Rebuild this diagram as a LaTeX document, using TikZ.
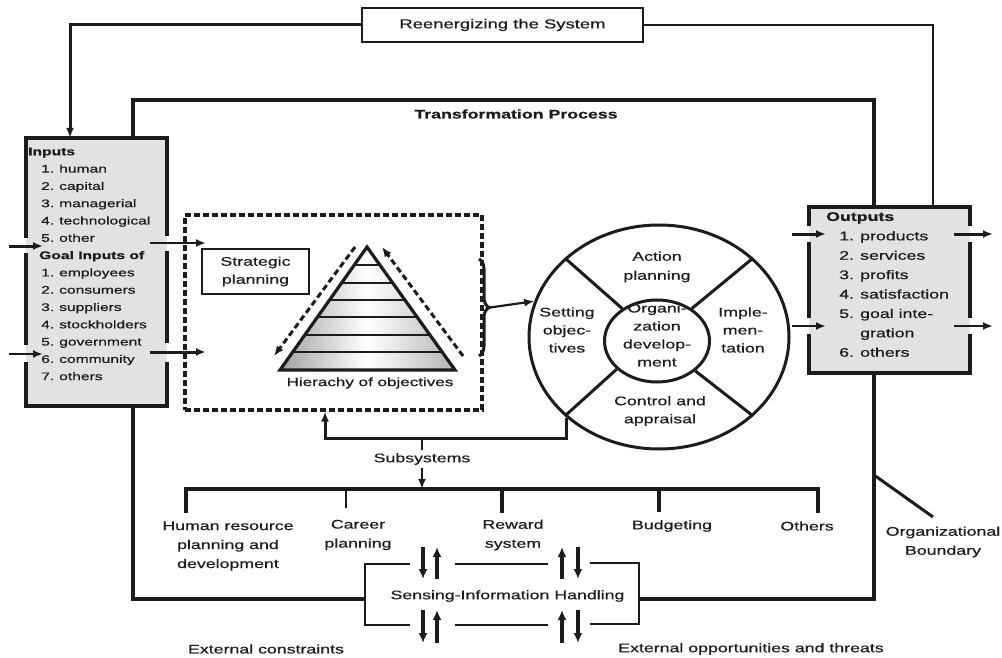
\documentclass[tikz,border=0pt]{standalone}
\usepackage{fontspec}
\setmainfont[FakeStretch=1.42,FakeBold=0.6]{Liberation Sans}
\usetikzlibrary{arrows.meta,shapes.geometric,decorations.pathreplacing,calc}
\definecolor{boxgray}{RGB}{226,226,226}
\definecolor{ink}{RGB}{28,28,28}
\begin{document}
\begin{tikzpicture}[x=1pt,y=-1pt,
  every node/.style={inner sep=0pt, text=ink},
  lab/.style={font=\fontsize{12.5}{19}\selectfont, align=center},
  heavy/.style={line width=3.3pt, draw=ink, line join=miter},
  med/.style={line width=3pt, draw=ink},
  thin/.style={line width=2.2pt, draw=ink},
  bord/.style={line width=3.2pt, draw=ink},
  tip/.style={-{Latex[length=10pt,width=8pt]}},
  pairarr/.style={line width=3.2pt, draw=ink, -{Latex[length=10pt,width=9pt]}},
]
\useasboundingbox (0,0) rectangle (1002,658);

% ---------- Reenergizing box and loop ----------
\node[draw=ink, line width=2.8pt, minimum width=281pt, minimum height=34pt,
      font=\fontsize{13}{15}\selectfont] (reen) at (502.5,25) {Reenergizing the System};

% ---------- Inputs and outputs boxes ----------
\node[fill=boxgray, minimum width=141pt, minimum height=268pt] (inp) at (96.5,272) {};
\node[fill=boxgray, minimum width=161pt, minimum height=166pt] (out) at (889.5,290) {};

\draw[bord] (26,238) -- (26,138) -- (167,138) -- (167,236);
\draw[bord] (26,253) -- (26,345);
\draw[bord] (167,251) -- (167,343);
\draw[bord] (26,362) -- (26,406) -- (167,406) -- (167,362);

\draw[bord] (809,226) -- (809,207) -- (970,207) -- (970,226);
\draw[bord] (809,242) -- (809,318);
\draw[bord] (970,242) -- (970,318);
\draw[bord] (809,334) -- (809,373) -- (970,373) -- (970,334);

\node[anchor=north west, align=left, font=\fontsize{11}{17.3}\selectfont] (inptxt) at (28,147.5) {%
\textbf{Inputs}\\
\hspace*{13pt}\makebox[18pt][l]{1.}human\\
\hspace*{13pt}\makebox[18pt][l]{2.}capital\\
\hspace*{13pt}\makebox[18pt][l]{3.}managerial\\
\hspace*{13pt}\makebox[18pt][l]{4.}technological\\
\hspace*{13pt}\makebox[18pt][l]{5.}other\\
\hspace*{11pt}\textbf{Goal Inputs of}\\
\hspace*{13pt}\makebox[18pt][l]{1.}employees\\
\hspace*{13pt}\makebox[18pt][l]{2.}consumers\\
\hspace*{13pt}\makebox[18pt][l]{3.}suppliers\\
\hspace*{13pt}\makebox[18pt][l]{4.}stockholders\\
\hspace*{13pt}\makebox[18pt][l]{5.}government\\
\hspace*{13pt}\makebox[18pt][l]{6.}community\\
\hspace*{13pt}\makebox[18pt][l]{7.}others}; 

\node[anchor=north west, align=left, font=\fontsize{12.5}{19.4}\selectfont] (outtxt) at (826,212) {%
\textbf{Outputs}\\
\hspace*{13pt}\makebox[21pt][l]{1.}products\\
\hspace*{13pt}\makebox[21pt][l]{2.}services\\
\hspace*{13pt}\makebox[21pt][l]{3.}profits\\
\hspace*{13pt}\makebox[21pt][l]{4.}satisfaction\\
\hspace*{13pt}\makebox[21pt][l]{5.}goal inte-\\
\hspace*{34pt}gration\\
\hspace*{13pt}\makebox[21pt][l]{6.}others};

% reenergizing loop
\coordinate (rl) at (70,25);
\coordinate (rr) at (933,25);
\draw[med, tip] (reen.west) -- (rl) -- (inp.north -| rl);
\draw[thin] (reen.east) -- (rr) -- (out.north -| rr);

% ---------- Organizational boundary ----------
\coordinate (tl) at (133,100);
\coordinate (tr) at (874,100);
\coordinate (bl) at (133,599);
\coordinate (br) at (874,599);
\coordinate (sL) at (365,599);
\coordinate (sR) at (639,599);
\draw[heavy] (inp.north -| tl) -- (tl) -- (tr) -- (out.north -| tr);
\draw[heavy] (inp.south -| bl) -- (bl) -- (sL);
\draw[heavy] (out.south -| br) -- (br) -- (sR);

\node[font=\fontsize{12.5}{15}\selectfont\bfseries] (tp) at (516,114) {Transformation Process};

% ---------- input/output arrows ----------
\coordinate (ia1) at (9,246);   \coordinate (ia1e) at (43,246);
\coordinate (ia2) at (9,354);   \coordinate (ia2e) at (43,354);
\coordinate (ib1) at (150,243); \coordinate (ib1e) at (206,243);
\coordinate (ib2) at (150,352); \coordinate (ib2e) at (206,352);
\draw[med, tip] (ia1) -- (ia1e);
\draw[thin, tip] (ia2) -- (ia2e);
\draw[thin, tip] (ib1) -- (ib1e);
\draw[med, tip] (ib2) -- (ib2e);

\coordinate (oa1) at (792,234); \coordinate (oa1e) at (826,234);
\coordinate (oa2) at (792,326); \coordinate (oa2e) at (826,326);
\coordinate (ob1) at (954,234); \coordinate (ob1e) at (993,234);
\coordinate (ob2) at (954,326); \coordinate (ob2e) at (993,326);
\draw[med, tip] (oa1) -- (oa1e);
\draw[thin, tip] (oa2) -- (oa2e);
\draw[med, tip] (ob1) -- (ob1e);
\draw[thin, tip] (ob2) -- (ob2e);

% ---------- dashed planning box ----------
\node[draw=ink, line width=3.2pt, dash pattern=on 6pt off 3pt,
      minimum width=297pt, minimum height=195pt] (dbox) at (333.5,312.5) {};
\node[draw=ink, line width=2.8pt, minimum width=107pt, minimum height=45pt,
      lab, font=\fontsize{12.5}{18}\selectfont] (strat) at (255.5,271.5) {Strategic\\planning};

% pyramid
\begin{scope}
  \clip (367,247) -- (280,370) -- (455,370) -- cycle;
  \foreach \ya/\yb in {247/265,265/283,283/300,300/317,317/335,335/352,352/370}{
    \shade[left color=gray!75, right color=gray!60, middle color=white] (278,\ya) rectangle (457,\yb);
  }
  \foreach \y in {265,283,300,317,335,352}
    \draw[line width=2.8pt, draw=ink] (270,\y) -- (465,\y);
\end{scope}
\draw[line width=3.2pt, draw=ink, line join=miter] (367,247) -- (280,370) -- (455,370) -- cycle;
\coordinate (pl1) at (355,247); \coordinate (pl2) at (274,356);
\coordinate (pr1) at (463,356); \coordinate (pr2) at (382,247);
\draw[med, dash pattern=on 6pt off 3.5pt, tip] (pl1) -- (pl2);
\draw[med, dash pattern=on 6pt off 3.5pt, tip] (pr1) -- (pr2);
\node[font=\fontsize{12}{14}\selectfont] (hier) at (370,383) {Hierachy of objectives};

% brace
\draw[med, decorate, decoration={brace, amplitude=10pt}] (479,259) -- (479,356);
\coordinate (btip) at (490,307.5);

% ---------- OD wheel ----------
\node[draw=ink, ellipse, line width=3pt, minimum width=260pt, minimum height=224pt] (circ) at (659,337) {};
\node[draw=ink, ellipse, line width=3pt, minimum width=105pt, minimum height=82pt] (core) at (657,341) {};
\draw[med] (circ.140) -- (core.137);
\draw[med] (circ.40) -- (core.43);
\draw[med] (circ.220) -- (core.215);
\draw[med] (circ.320) -- (core.322);

\draw[thin, tip] (btip) -- (circ.164);

\node[lab] (act) at (657,267) {Action\\planning};
\node[lab, font=\fontsize{12.5}{18}\selectfont] (setobj) at (567,330) {Setting\\objec-\\tives};
\node[lab, font=\fontsize{12.5}{18}\selectfont] (impl) at (743,330) {Imple-\\men-\\tation};
\node[lab, font=\fontsize{12.5}{18}\selectfont] (odtxt) at (657,335) {Organi-\\zation\\develop-\\ment};
\node[lab, font=\fontsize{12.5}{18}\selectfont] (ctrl) at (660,411) {Control and\\appraisal};

% feedback to planning box
\coordinate (fbturn) at (325,438);
\draw[med, tip] (circ.221) |- (fbturn) -- (fbturn |- dbox.south);

% ---------- subsystems ----------
\node[lab, inner sep=3pt] (subs) at (422,459) {Subsystems};
\draw[thin] (subs.north |- fbturn) -- (subs.north);
\coordinate (busc) at (422,489);
\draw[thin, tip] (subs.south) -- (busc);

\coordinate (d1) at (186,513); \coordinate (d2) at (346,508); \coordinate (d3) at (502,513);
\coordinate (d4) at (659,512); \coordinate (d5) at (818,513);
\draw[heavy] (d1) -- (d1 |- busc) -- (d5 |- busc) -- (d5);
\draw[thin] (d2 |- busc) -- (d2);
\draw[heavy] (d3 |- busc) -- (d3);
\draw[heavy] (d4 |- busc) -- (d4);

\node[lab] (hr) at (228,546) {Human resource\\planning and\\development};
\node[lab] (career) at (358,535) {Career\\planning};
\node[lab] (reward) at (513,535) {Reward\\system};
\node[lab] (budget) at (672,526) {Budgeting};
\node[lab] (others) at (807,526) {Others};

% ---------- sensing ----------
\node[lab] (sens) at (507.5,596) {Sensing-Information\hspace{5pt}Handling};
\draw[thin] (410,564) -- (365,564) -- (365,625) -- (410,625);
\draw[thin] (455,564) -- (548,564);
\draw[thin] (455,625) -- (548,625);
\draw[thin] (590,563) -- (639,563) -- (639,624) -- (590,624);

\foreach \ya/\yb in {547/579,610/643}{
  \draw[pairarr] (423,\ya) -- (423,\yb);
  \draw[pairarr] (437,\yb) -- (437,\ya);
  \draw[pairarr] (562,\yb) -- (562,\ya);
  \draw[pairarr] (578,\ya) -- (578,\yb);
}

% ---------- boundary label ----------
\coordinate (ob) at (874,475);
\coordinate (obe) at (933,517);
\draw[med] (ob) -- (obe);
\node[lab] (orgb) at (943,542) {Organizational\\Boundary};

\node[lab] (extc) at (266,649) {External constraints};
\node[lab] (exto) at (751,649) {External opportunities and threats};
\end{tikzpicture}
\end{document}
